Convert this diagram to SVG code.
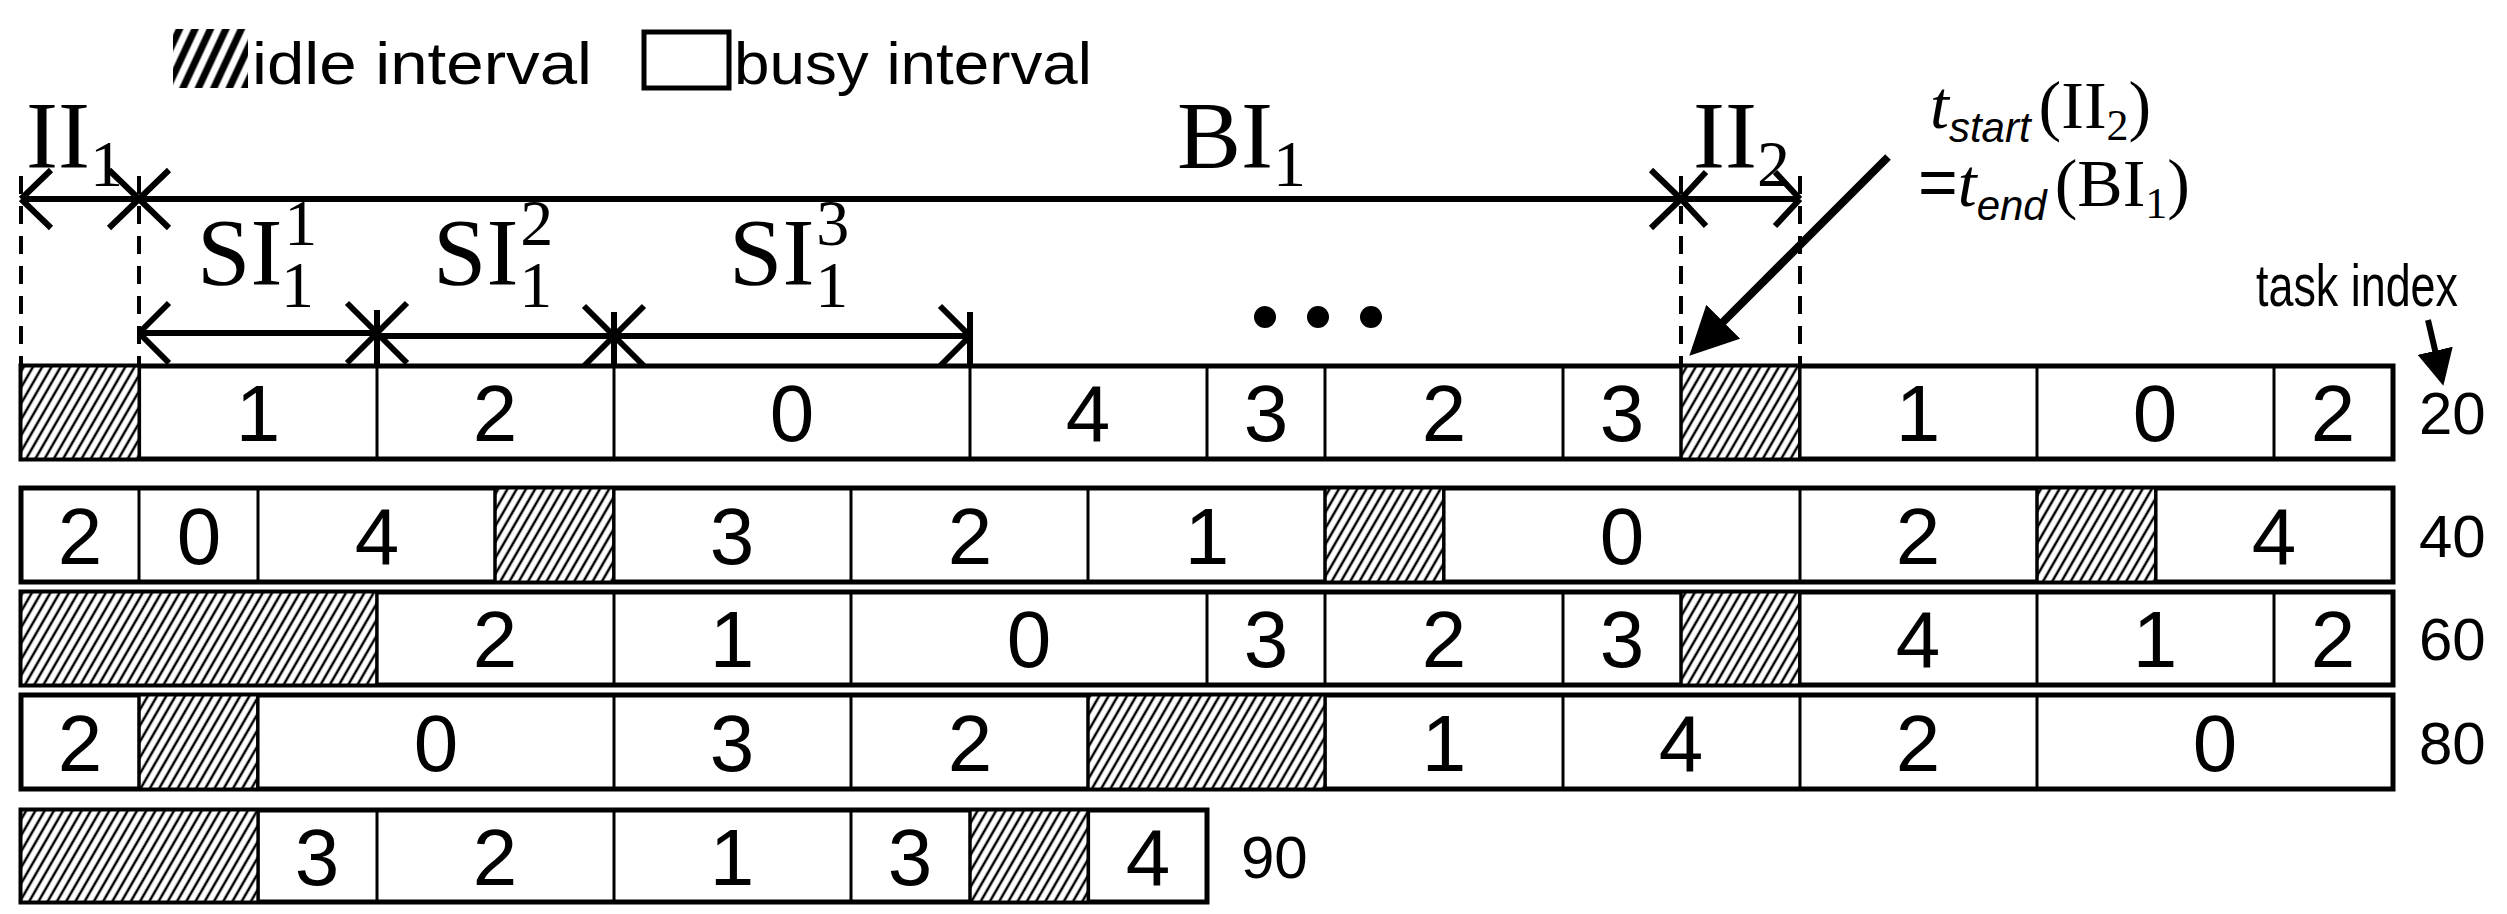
<svg xmlns="http://www.w3.org/2000/svg" width="2507" height="914" viewBox="0 0 2507 914">
<style>
.row{fill:#fff;stroke:#000;stroke-width:5}
.idle{fill:url(#h);stroke:#000;stroke-width:3}
.div{stroke:#000;stroke-width:3}
.d{font-family:"Liberation Sans",Arial,sans-serif;font-size:80px;text-anchor:middle}
.lbl{font-family:"Liberation Sans",Arial,sans-serif;font-size:60px}
.ser{font-family:"Liberation Serif","Times New Roman",serif;font-size:96px}
.ln{stroke:#000;stroke-width:6;fill:none}
.dash{stroke:#000;stroke-width:4;stroke-dasharray:18,12;fill:none}
</style>
<defs>
<pattern id="h" width="8" height="8" patternUnits="userSpaceOnUse" patternTransform="rotate(30)">
<rect width="8" height="8" fill="#fff"/><line x1="4" y1="0" x2="4" y2="8" stroke="#000" stroke-width="2.5"/>
</pattern>
<pattern id="h2" width="14" height="14" patternUnits="userSpaceOnUse" patternTransform="rotate(25)">
<rect width="14" height="14" fill="#fff"/><line x1="7" y1="0" x2="7" y2="14" stroke="#000" stroke-width="7"/>
</pattern>
<marker id="fa" markerWidth="6" markerHeight="6" refX="5" refY="3" orient="auto" markerUnits="strokeWidth">
<path d="M0,0 L6,3 L0,6 z" fill="#000"/>
</marker>
</defs>

<g id="legend">
<rect x="173" y="29" width="75" height="59" fill="url(#h2)"/>
<text class="lbl" x="252" y="84" textLength="340" lengthAdjust="spacingAndGlyphs">idle interval</text>
<rect x="644" y="32" width="85" height="56" fill="#fff" stroke="#000" stroke-width="5"/>
<text class="lbl" x="734" y="84" textLength="358" lengthAdjust="spacingAndGlyphs">busy interval</text>
</g>

<g id="annotations">
<text class="ser" x="26" y="168">II<tspan font-size="66" dy="18">1</tspan></text>
<text class="ser" x="1177" y="168">BI<tspan font-size="66" dy="18">1</tspan></text>
<text class="ser" x="1693" y="168">II<tspan font-size="66" dy="18">2</tspan></text>
<text class="ser" x="197" y="285">SI<tspan font-size="66" dx="2" dy="-40">1</tspan><tspan font-size="66" dx="-34" dy="62">1</tspan></text>
<text class="ser" x="433" y="285">SI<tspan font-size="66" dx="2" dy="-40">2</tspan><tspan font-size="66" dx="-34" dy="62">1</tspan></text>
<text class="ser" x="729" y="285">SI<tspan font-size="66" dx="2" dy="-40">3</tspan><tspan font-size="66" dx="-34" dy="62">1</tspan></text>
<circle cx="1265" cy="317" r="11"/><circle cx="1318" cy="317" r="11"/><circle cx="1371" cy="317" r="11"/>
<text x="1930" y="128" font-family="Liberation Serif,serif" font-size="68"><tspan font-style="italic">t</tspan><tspan font-family="Liberation Sans,sans-serif" font-style="italic" font-size="42" dy="14">start</tspan><tspan dx="8" dy="-14">(II</tspan><tspan font-size="44" dy="12">2</tspan><tspan dy="-12">)</tspan></text>
<text x="1918" y="206" font-family="Liberation Serif,serif" font-size="68"><tspan font-family="Liberation Sans,sans-serif">=</tspan><tspan font-style="italic">t</tspan><tspan font-family="Liberation Sans,sans-serif" font-style="italic" font-size="42" dy="14">end</tspan><tspan dx="8" dy="-14">(BI</tspan><tspan font-size="44" dy="12">1</tspan><tspan dy="-12">)</tspan></text>
<text class="lbl" x="2256" y="306" font-size="72" textLength="202" lengthAdjust="spacingAndGlyphs">task index</text>
</g>

<g id="connectors">
<line class="dash" x1="21" y1="176" x2="21" y2="366"/>
<line class="dash" x1="139" y1="176" x2="139" y2="366"/>
<line class="dash" x1="1681" y1="176" x2="1681" y2="366"/>
<line class="dash" x1="1800" y1="176" x2="1800" y2="366"/>
<path class="ln" d="M21,199 H1681 M21,199 l30,-29 M21,199 l30,29 M139,199 l-30,-29 M139,199 l-30,29 M139,199 l30,-29 M139,199 l30,29 M1681,199 l-30,-29 M1681,199 l-30,29"/>
<path class="ln" d="M1681,199 H1800 M1681,199 l25,-27 M1681,199 l25,27 M1800,199 l-25,-27 M1800,199 l-25,27"/>
<path class="ln" d="M139,333 H377 M139,333 l30,-30 M139,333 l30,30 M377,333 l-30,-30 M377,333 l-30,30 M377,333 l30,-30 M377,333 l30,30 M377,336 H614 M614,336 l-30,-30 M614,336 l-30,30 M614,336 l30,-30 M614,336 l30,30 M614,336 H970 M970,336 l-30,-30 M970,336 l-30,30 M377,310 V366 M614,312 V366 M970,312 V366"/>
<line x1="1888" y1="157" x2="1695" y2="350" stroke="#000" stroke-width="8" marker-end="url(#fa)"/>
<line x1="2428" y1="320" x2="2442" y2="380" stroke="#000" stroke-width="6" marker-end="url(#fa)"/>
</g>

<g id="row20">
<rect class="row" x="21" y="366" width="2372" height="93"/>
<rect class="idle" x="21" y="366" width="118.6" height="93"/>
<rect class="idle" x="1681" y="366" width="118.6" height="93"/>
<path class="div" d="M139,366V459M377,366V459M614,366V459M970,366V459M1207,366V459M1325,366V459M1563,366V459M1681,366V459M1800,366V459M2037,366V459M2274,366V459"/>
<text class="d" x="258" y="441">1</text><text class="d" x="495" y="441">2</text><text class="d" x="792" y="441">0</text><text class="d" x="1088" y="441">4</text><text class="d" x="1266" y="441">3</text><text class="d" x="1444" y="441">2</text><text class="d" x="1622" y="441">3</text><text class="d" x="1918" y="441">1</text><text class="d" x="2155" y="441">0</text><text class="d" x="2333" y="441">2</text>
<text class="lbl" x="2419" y="434">20</text>
</g>

<g id="row40">
<rect class="row" x="21" y="488" width="2372" height="94"/>
<rect class="idle" x="495" y="488" width="118.6" height="94"/>
<rect class="idle" x="1325" y="488" width="118.6" height="94"/>
<rect class="idle" x="2037" y="488" width="118.6" height="94"/>
<path class="div" d="M139,488V582M258,488V582M495,488V582M614,488V582M851,488V582M1088,488V582M1325,488V582M1444,488V582M1800,488V582M2037,488V582M2156,488V582"/>
<text class="d" x="80" y="564">2</text><text class="d" x="199" y="564">0</text><text class="d" x="377" y="564">4</text><text class="d" x="732" y="564">3</text><text class="d" x="970" y="564">2</text><text class="d" x="1207" y="564">1</text><text class="d" x="1622" y="564">0</text><text class="d" x="1918" y="564">2</text><text class="d" x="2274" y="564">4</text>
<text class="lbl" x="2419" y="557">40</text>
</g>

<g id="row60">
<rect class="row" x="21" y="592" width="2372" height="93"/>
<rect class="idle" x="21" y="592" width="355.8" height="93"/>
<rect class="idle" x="1681" y="592" width="118.6" height="93"/>
<path class="div" d="M377,592V685M614,592V685M851,592V685M1207,592V685M1325,592V685M1563,592V685M1681,592V685M1800,592V685M2037,592V685M2274,592V685"/>
<text class="d" x="495" y="667">2</text><text class="d" x="732" y="667">1</text><text class="d" x="1029" y="667">0</text><text class="d" x="1266" y="667">3</text><text class="d" x="1444" y="667">2</text><text class="d" x="1622" y="667">3</text><text class="d" x="1918" y="667">4</text><text class="d" x="2155" y="667">1</text><text class="d" x="2333" y="667">2</text>
<text class="lbl" x="2419" y="660">60</text>
</g>

<g id="row80">
<rect class="row" x="21" y="695" width="2372" height="94"/>
<rect class="idle" x="139" y="695" width="118.6" height="94"/>
<rect class="idle" x="1088" y="695" width="237.2" height="94"/>
<path class="div" d="M139,695V789M258,695V789M614,695V789M851,695V789M1088,695V789M1325,695V789M1563,695V789M1800,695V789M2037,695V789"/>
<text class="d" x="80" y="771">2</text><text class="d" x="436" y="771">0</text><text class="d" x="732" y="771">3</text><text class="d" x="970" y="771">2</text><text class="d" x="1444" y="771">1</text><text class="d" x="1681" y="771">4</text><text class="d" x="1918" y="771">2</text><text class="d" x="2215" y="771">0</text>
<text class="lbl" x="2419" y="764">80</text>
</g>

<g id="row90">
<rect class="row" x="21" y="810" width="1186" height="92"/>
<rect class="idle" x="21" y="810" width="237.2" height="92"/>
<rect class="idle" x="970" y="810" width="118.6" height="92"/>
<path class="div" d="M258,810V902M377,810V902M614,810V902M851,810V902M970,810V902M1088,810V902"/>
<text class="d" x="317" y="885">3</text><text class="d" x="495" y="885">2</text><text class="d" x="732" y="885">1</text><text class="d" x="910" y="885">3</text><text class="d" x="1148" y="885">4</text>
<text class="lbl" x="1241" y="878">90</text>
</g>
</svg>
